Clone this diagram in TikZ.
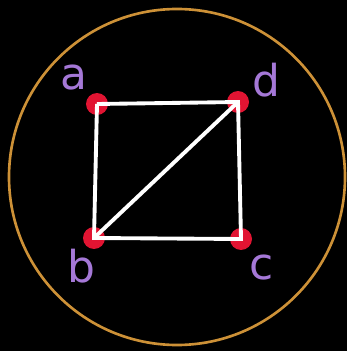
\documentclass[tikz,border=0pt]{standalone}
\usepackage{fontspec}
\setmainfont{DejaVu Sans}
\definecolor{ringorange}{RGB}{205,145,55}
\definecolor{dotred}{RGB}{225,20,50}
\definecolor{labelpurple}{RGB}{165,120,215}
\tikzset{
  vertex/.style={circle, fill=dotred, inner sep=0pt, minimum size=0.44cm},
  edge/.style={white, line width=2.2pt},
  lbl/.style={text=labelpurple, font=\fontsize{25}{25}\selectfont}
}
\begin{document}
\begin{tikzpicture}[x=0.02cm, y=-0.02cm]
\fill[black] (0,0) rectangle (347,351);
\useasboundingbox (0,0) rectangle (347,351);
\draw[ringorange, line width=1.5pt] (177,177) circle (168);

\node[vertex] (a) at (97,104) {};
\node[vertex] (d) at (238,102) {};
\node[vertex] (b) at (94,238) {};
\node[vertex] (c) at (241,239) {};

\draw[edge] (a.center) -- (d.center) -- (c.center) -- (b.center) -- (a.center);
\draw[edge] (b.center) -- (d.center);

\node[lbl] (la) at (74,78) {a};
\node[lbl] (ld) at (266,80) {d};
\node[lbl] (lb) at (81,266) {b};
\node[lbl] (lc) at (262,268) {c};
\end{tikzpicture}
\end{document}
